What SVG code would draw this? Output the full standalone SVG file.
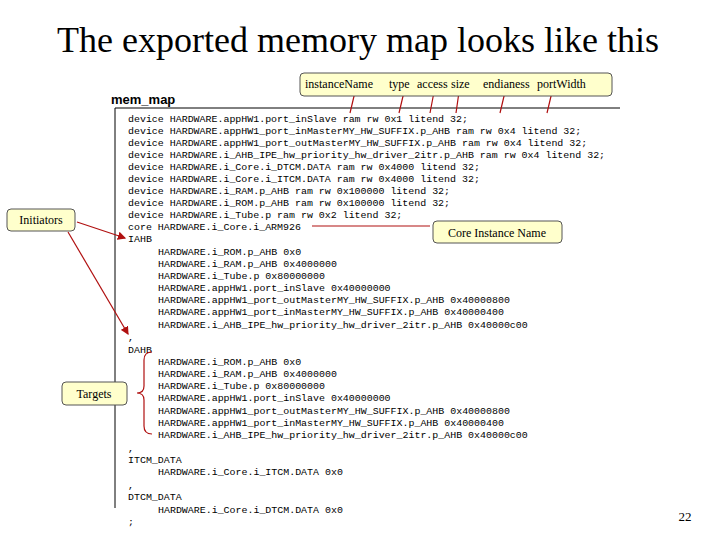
<svg xmlns="http://www.w3.org/2000/svg" width="720" height="540" viewBox="0 0 720 540">
<style>
.c{font-family:'Liberation Mono','DejaVu Sans Mono','Courier New',monospace;font-size:9.95px;fill:#000}
.b{fill:#ffffcc;stroke:#555;stroke-width:1}
.bl{font-family:'Liberation Serif',serif;font-size:12px;fill:#000}
.r{stroke:#b01010;stroke-width:1.2;fill:none}
</style>
<defs><marker id="a" markerWidth="7" markerHeight="7" refX="6" refY="3.5" orient="auto"><path d="M0,0L7,3.5L0,7z" fill="#b01010"/></marker></defs>
<rect width="720" height="540" fill="#fff"/>
<text x="358" y="52" text-anchor="middle" font-family="'Liberation Serif',serif" font-size="36">The exported memory map looks like this</text>
<text x="111" y="104" font-family="'Liberation Sans',sans-serif" font-weight="bold" font-size="13">mem_map</text>
<path d="M115,108H620M115,108V508" stroke="#000" stroke-width="1" fill="none"/>
<g id="code">
<text class="c" x="128" y="122">device HARDWARE.appHW1.port_inSlave ram rw 0x1 litend 32;</text>
<text class="c" x="128" y="134">device HARDWARE.appHW1_port_inMasterMY_HW_SUFFIX.p_AHB ram rw 0x4 litend 32;</text>
<text class="c" x="128" y="146">device HARDWARE.appHW1_port_outMasterMY_HW_SUFFIX.p_AHB ram rw 0x4 litend 32;</text>
<text class="c" x="128" y="158">device HARDWARE.i_AHB_IPE_hw_priority_hw_driver_2itr.p_AHB ram rw 0x4 litend 32;</text>
<text class="c" x="128" y="170">device HARDWARE.i_Core.i_DTCM.DATA ram rw 0x4000 litend 32;</text>
<text class="c" x="128" y="182">device HARDWARE.i_Core.i_ITCM.DATA ram rw 0x4000 litend 32;</text>
<text class="c" x="128" y="194">device HARDWARE.i_RAM.p_AHB ram rw 0x100000 litend 32;</text>
<text class="c" x="128" y="206">device HARDWARE.i_ROM.p_AHB ram rw 0x100000 litend 32;</text>
<text class="c" x="128" y="218">device HARDWARE.i_Tube.p ram rw 0x2 litend 32;</text>
<text class="c" x="128" y="230">core HARDWARE.i_Core.i_ARM926</text>
<text class="c" x="128" y="242">IAHB</text>
<text class="c" x="158" y="255">HARDWARE.i_ROM.p_AHB 0x0</text>
<text class="c" x="158" y="267">HARDWARE.i_RAM.p_AHB 0x4000000</text>
<text class="c" x="158" y="279">HARDWARE.i_Tube.p 0x80000000</text>
<text class="c" x="158" y="291">HARDWARE.appHW1.port_inSlave 0x40000000</text>
<text class="c" x="158" y="303">HARDWARE.appHW1_port_outMasterMY_HW_SUFFIX.p_AHB 0x40000800</text>
<text class="c" x="158" y="315">HARDWARE.appHW1_port_inMasterMY_HW_SUFFIX.p_AHB 0x40000400</text>
<text class="c" x="158" y="328">HARDWARE.i_AHB_IPE_hw_priority_hw_driver_2itr.p_AHB 0x40000c00</text>
<text class="c" x="128" y="340">,</text>
<text class="c" x="128" y="353">DAHB</text>
<text class="c" x="158" y="365">HARDWARE.i_ROM.p_AHB 0x0</text>
<text class="c" x="158" y="377">HARDWARE.i_RAM.p_AHB 0x4000000</text>
<text class="c" x="158" y="389">HARDWARE.i_Tube.p 0x80000000</text>
<text class="c" x="158" y="401">HARDWARE.appHW1.port_inSlave 0x40000000</text>
<text class="c" x="158" y="414">HARDWARE.appHW1_port_outMasterMY_HW_SUFFIX.p_AHB 0x40000800</text>
<text class="c" x="158" y="426">HARDWARE.appHW1_port_inMasterMY_HW_SUFFIX.p_AHB 0x40000400</text>
<text class="c" x="158" y="438">HARDWARE.i_AHB_IPE_hw_priority_hw_driver_2itr.p_AHB 0x40000c00</text>
<text class="c" x="128" y="451">,</text>
<text class="c" x="128" y="463">ITCM_DATA</text>
<text class="c" x="158" y="475">HARDWARE.i_Core.i_ITCM.DATA 0x0</text>
<text class="c" x="128" y="488">,</text>
<text class="c" x="128" y="500">DTCM_DATA</text>
<text class="c" x="158" y="513">HARDWARE.i_Core.i_DTCM.DATA 0x0</text>
<text class="c" x="128" y="525">;</text>
</g>
<g id="connectors">
<path class="r" d="M355,92L350,113M404,92L399,113M434,92L430,113M459,92L456,113M505,92L500,113M552,92L547,113"/>
<path class="r" d="M312,226H430"/>
<path class="r" d="M77,222L125,238" marker-end="url(#a)"/>
<path class="r" d="M68,232L128,334" marker-end="url(#a)"/>
<path class="r" d="M152,352Q144,352 144,360V386Q144,393 137,393Q144,393 144,400V426Q144,434 152,434"/>
</g>
<g id="fields"><rect class="b" x="300" y="73" width="312" height="23" rx="4"/>
<text class="bl" x="305" y="88" font-size="11">instanceName</text>
<text class="bl" x="389" y="88" font-size="11">type</text>
<text class="bl" x="417" y="88" font-size="11">access</text>
<text class="bl" x="451" y="88" font-size="11">size</text>
<text class="bl" x="483" y="88" font-size="11">endianess</text>
<text class="bl" x="537" y="88" font-size="11">portWidth</text></g>
<g id="core"><rect class="b" x="433" y="221" width="129" height="22" rx="4"/><text class="bl" x="497" y="237" text-anchor="middle">Core Instance Name</text></g>
<g id="initiators"><rect class="b" x="7" y="209" width="68" height="22" rx="4"/><text class="bl" x="41" y="224" text-anchor="middle">Initiators</text></g>
<g id="targets"><rect class="b" x="62" y="382" width="65" height="23" rx="4"/><text class="bl" x="94" y="398" text-anchor="middle">Targets</text></g>
<text x="685" y="521" text-anchor="middle" font-family="'Liberation Serif',serif" font-size="13">22</text>
</svg>
